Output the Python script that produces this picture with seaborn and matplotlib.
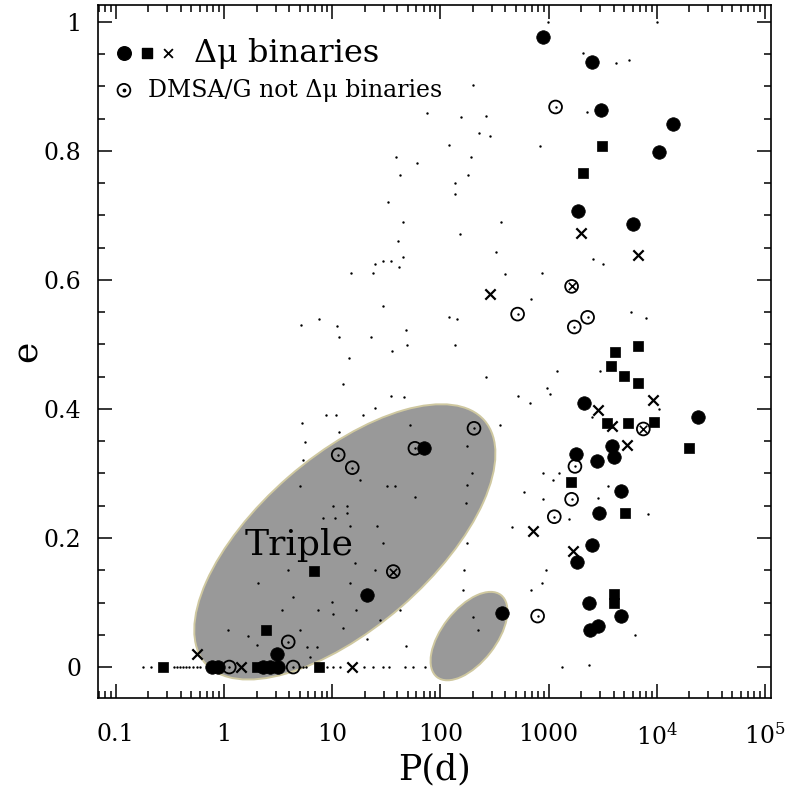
import numpy as np
import matplotlib
matplotlib.use("Agg")
import matplotlib.pyplot as plt
import seaborn as sns
from matplotlib.patches import Ellipse
from matplotlib.transforms import IdentityTransform
from matplotlib.ticker import FixedLocator, LogLocator, MultipleLocator, NullFormatter

# Periods stored as log10 P(d), eccentricities as e

# filled circles (Delta mu binaries)
circ_logp = [2.945, 3.401, 3.481, 4.153, 4.020, 3.272, 3.783, 4.378, 3.327, 3.583,
             3.604, 3.250, 3.444, 3.669, 3.469, 3.401, 3.260, 3.370, 3.672, 3.383,
             3.459, 2.566, 1.319, 1.848, 0.49, -0.114, -0.053, 0.363, 0.425, 0.502]
circ_e = [0.977, 0.937, 0.864, 0.842, 0.798, 0.707, 0.687, 0.388, 0.410, 0.342,
          0.326, 0.330, 0.320, 0.273, 0.239, 0.189, 0.163, 0.099, 0.079, 0.058,
          0.064, 0.084, 0.112, 0.339, 0.020, 0.0, 0.0, 0.0, 0.0, 0.0]

# filled squares (Delta mu binaries)
sq_logp = [3.491, 3.315, 3.614, 3.829, 3.577, 3.700, 3.823, 3.537, 3.737, 3.977,
           4.298, 3.204, 3.709, 3.602, 3.602, -0.561, 0.835, 0.385, 0.878, 0.308]
sq_e = [0.807, 0.765, 0.489, 0.498, 0.466, 0.451, 0.440, 0.379, 0.379, 0.380,
        0.340, 0.287, 0.239, 0.114, 0.100, 0.0, 0.149, 0.058, 0.0, 0.0]

# crosses (Delta mu binaries)
x_logp = [3.299, 3.829, 2.458, 3.968, 3.459, 3.583, 3.722, 2.859, 3.223, -0.247, 1.180, 0.157]
x_e = [0.672, 0.639, 0.578, 0.414, 0.398, 0.374, 0.344, 0.211, 0.180, 0.020, 0.0, 0.0]

# open circles (DMSA/G not Delta mu binaries)
open_logp = [3.065, 2.714, 3.238, 3.361, 2.311, 3.244, 3.213, 3.053, 2.899, 0.594,
             1.056, 1.186, 1.765, 0.049, 0.640]
open_e = [0.868, 0.547, 0.527, 0.542, 0.370, 0.311, 0.260, 0.233, 0.079, 0.039,
          0.329, 0.309, 0.339, 0.0, 0.0]

# open circles that are also crosses
otimes_logp = [3.213, 3.876, 1.565]
otimes_e = [0.590, 0.369, 0.148]

# background sample (small dots)
dot_logp = [1.873, 2.188, 2.360, 2.077, 1.587, 1.787, 2.280, 1.629, 2.258, 2.138,
            2.138, 1.513, 1.657, 2.181, 1.611, 1.657, 1.396, 1.472, 1.541, 1.617,
            1.174, 1.380, 1.472, 0.878, 0.714, 1.047, 2.082, 2.156, 1.066, 1.359,
            1.682, 1.694, 1.550, 2.138, 1.155, 1.103, 1.541, 1.666, 1.396, 0.943,
            1.035, 1.287,
            2.992, 3.999, 3.321, 3.623, 3.746, 2.299, 2.421, 2.458, 2.921, 3.358,
            2.557, 2.514, 2.597, 2.936, 3.413, 3.500, 2.835, 3.762, 3.897,
            2.421, 3.075, 3.475, 2.720, 2.988, 2.828, 3.013, 4.023, 3.398, 2.551,
            2.951, 3.099, 3.043, 2.775, 2.951, 3.552, 3.459, 3.921, 3.191, 2.659,
            2.976, 2.837, 2.936, 2.299, 2.350, 3.796, 3.121, 3.376, 2.289, 2.243,
            2.237, 2.243, 2.243, 2.218, 2.206,
            0.718, 1.066, 0.749, 1.719, 0.733, 1.504, 1.580, 1.257, 1.765, 0.702,
            1.010, 1.134, 0.918, 1.026, 1.134, 1.165, 1.411, 1.472, 1.211, 1.396,
            0.594, 0.317, 0.635, 0.995, 1.165, 0.872, 1.220, 0.533, 1.010, 1.442,
            0.040, 0.225, 0.702, 1.103, 1.627, 1.682, 0.302, 0.764, 0.857, 0.795,
            1.319,
            -0.75, -0.67, -0.46, -0.43, -0.41, -0.38, -0.35, -0.32, -0.29, -0.25,
            -0.22, 0.70, 0.73, 0.76, 0.95, 1.01, 1.07, 1.29, 1.38, 1.47, 1.53,
            1.67, 1.75, 1.86]
dot_e = [0.858, 0.852, 0.828, 0.809, 0.790, 0.781, 0.790, 0.762, 0.762, 0.750,
         0.733, 0.720, 0.690, 0.671, 0.660, 0.636, 0.624, 0.630, 0.630, 0.620,
         0.610, 0.610, 0.559, 0.540, 0.530, 0.528, 0.543, 0.540, 0.511, 0.511,
         0.522, 0.499, 0.490, 0.499, 0.479, 0.439, 0.420, 0.419, 0.402, 0.391,
         0.391, 0.391,
         1.000, 1.000, 0.951, 0.936, 0.941, 0.902, 0.854, 0.823, 0.807, 0.861,
         0.690, 0.643, 0.609, 0.610, 0.632, 0.624, 0.570, 0.550, 0.541,
         0.449, 0.459, 0.459, 0.420, 0.433, 0.410, 0.423, 0.400, 0.387, 0.375,
         0.300, 0.300, 0.290, 0.272, 0.260, 0.281, 0.262, 0.237, 0.229, 0.217,
         0.151, 0.120, 0.130, 0.078, 0.057, 0.050, 0.0, 0.003, 0.301, 0.282,
         0.254, 0.342, 0.192, 0.151, 0.120,
         0.379, 0.365, 0.349, 0.375, 0.321, 0.280, 0.280, 0.290, 0.264, 0.280,
         0.249, 0.249, 0.231, 0.231, 0.238, 0.218, 0.218, 0.192, 0.161, 0.150,
         0.150, 0.131, 0.109, 0.101, 0.130, 0.089, 0.088, 0.088, 0.083, 0.073,
         0.058, 0.048, 0.057, 0.060, 0.088, 0.033, 0.034, 0.031, 0.031, 0.016,
         0.044,
         0.0, 0.0, 0.0, 0.0, 0.0, 0.0, 0.0, 0.0, 0.0, 0.0,
         0.0, 0.0, 0.0, 0.0, 0.0, 0.0, 0.0, 0.0, 0.0, 0.0, 0.0,
         0.0, 0.0, 0.0]

x_tick_vals = [0.1, 1, 10, 100, 1000, 1e4, 1e5]
x_tick_labels = ["0.1", "1", "10", "100", "1000", "$10^4$", "$10^5$"]

# "Triple" region and the short-period clump (centre P, e)
triple_centre = (13.1, 0.194)
clump_centre = (184.0, 0.048)
triple_label_pos = (4.93, 0.189)


def per(logp):
    return 10 ** np.asarray(logp)


sns.set_style("ticks")
plt.rcParams["font.family"] = ["DejaVu Serif"]
plt.rcParams["mathtext.fontset"] = "dejavuserif"
# plain black text and ticks, like the original figure
for key in ["text.color", "axes.labelcolor", "xtick.color", "ytick.color", "axes.edgecolor"]:
    plt.rcParams[key] = "black"

fig = plt.figure(figsize=(7.92, 7.89), dpi=100)
ax = fig.add_axes([0.1237, 0.1153, 0.8497, 0.8783])
ax.set_xscale("log")
ax.set_xlim(0.0685, 1.136e5)
ax.set_ylim(-0.048, 1.026)

# grey ellipses, sized in screen pixels
for centre, w, h, ang in [(triple_centre, 370, 172, 41), (clump_centre, 104, 54, 52)]:
    cx, cy = ax.transData.transform(centre)
    ax.add_patch(Ellipse((cx, cy), w, h, angle=ang, transform=IdentityTransform(),
                         facecolor="#999999", edgecolor="#cfc8a0", lw=1.4, zorder=1))

sns.scatterplot(x=per(dot_logp), y=dot_e, ax=ax, marker="o", s=3,
                color="black", linewidth=0, zorder=2)
sns.scatterplot(x=per(circ_logp), y=circ_e, ax=ax, marker="o", s=95,
                color="black", edgecolor="black", linewidth=0.5, zorder=4)
sns.scatterplot(x=per(sq_logp), y=sq_e, ax=ax, marker="s", s=62,
                color="black", edgecolor="black", linewidth=0.5, zorder=4)
sns.scatterplot(x=per(x_logp), y=x_e, ax=ax, marker="x", s=55,
                color="black", linewidth=1.6, zorder=4)
sns.scatterplot(x=per(open_logp), y=open_e, ax=ax, marker="o", s=85,
                facecolor="none", edgecolor="black", linewidth=1.3, zorder=3)
sns.scatterplot(x=per(open_logp), y=open_e, ax=ax, marker="o", s=3,
                color="black", linewidth=0, zorder=3)
sns.scatterplot(x=per(otimes_logp), y=otimes_e, ax=ax, marker="o", s=85,
                facecolor="none", edgecolor="black", linewidth=1.3, zorder=3)
sns.scatterplot(x=per(otimes_logp), y=otimes_e, ax=ax, marker="x", s=28,
                color="black", linewidth=1.2, zorder=3)

ax.text(*triple_label_pos, "Triple", fontsize=26, ha="center", va="center", zorder=5)

# legend drawn by hand, as in the original figure
ax.scatter([0.0386], [0.9307], transform=ax.transAxes, marker="o", s=95, color="black")
ax.scatter([0.0728], [0.9307], transform=ax.transAxes, marker="s", s=62, color="black")
ax.scatter([0.1040], [0.9307], transform=ax.transAxes, marker="x", s=40, color="black", linewidth=1.3)
ax.text(0.143, 0.9307, "Δμ binaries", transform=ax.transAxes, fontsize=23, va="center")
ax.scatter([0.0386], [0.877], transform=ax.transAxes, marker="o", s=85,
           facecolor="none", edgecolor="black", linewidth=1.3)
ax.scatter([0.0386], [0.877], transform=ax.transAxes, marker="o", s=3, color="black")
ax.text(0.074, 0.877, "DMSA/G not Δμ binaries", transform=ax.transAxes, fontsize=17, va="center")

ax.xaxis.set_major_locator(FixedLocator(x_tick_vals))
ax.set_xticklabels(x_tick_labels)
ax.xaxis.set_minor_locator(LogLocator(base=10, subs=np.arange(2, 10), numticks=20))
ax.xaxis.set_minor_formatter(NullFormatter())
ax.yaxis.set_major_locator(MultipleLocator(0.2))
ax.yaxis.set_minor_locator(MultipleLocator(0.05))
ax.set_yticks([0, 0.2, 0.4, 0.6, 0.8, 1])
ax.set_yticklabels(["0", "0.2", "0.4", "0.6", "0.8", "1"])

ax.tick_params(which="both", direction="in", top=True, right=True, labelsize=17, width=1.1)
ax.tick_params(which="major", length=10)
ax.tick_params(axis="x", which="major", pad=18)
ax.tick_params(axis="y", which="major", pad=12)
ax.tick_params(which="minor", length=5)
for sp in ax.spines.values():
    sp.set_linewidth(1.2)
    sp.set_color("black")

ax.set_xlabel("P(d)", fontsize=25, labelpad=2)
ax.set_ylabel("e", fontsize=26, labelpad=0)

fig.savefig("out.png", dpi=100)
